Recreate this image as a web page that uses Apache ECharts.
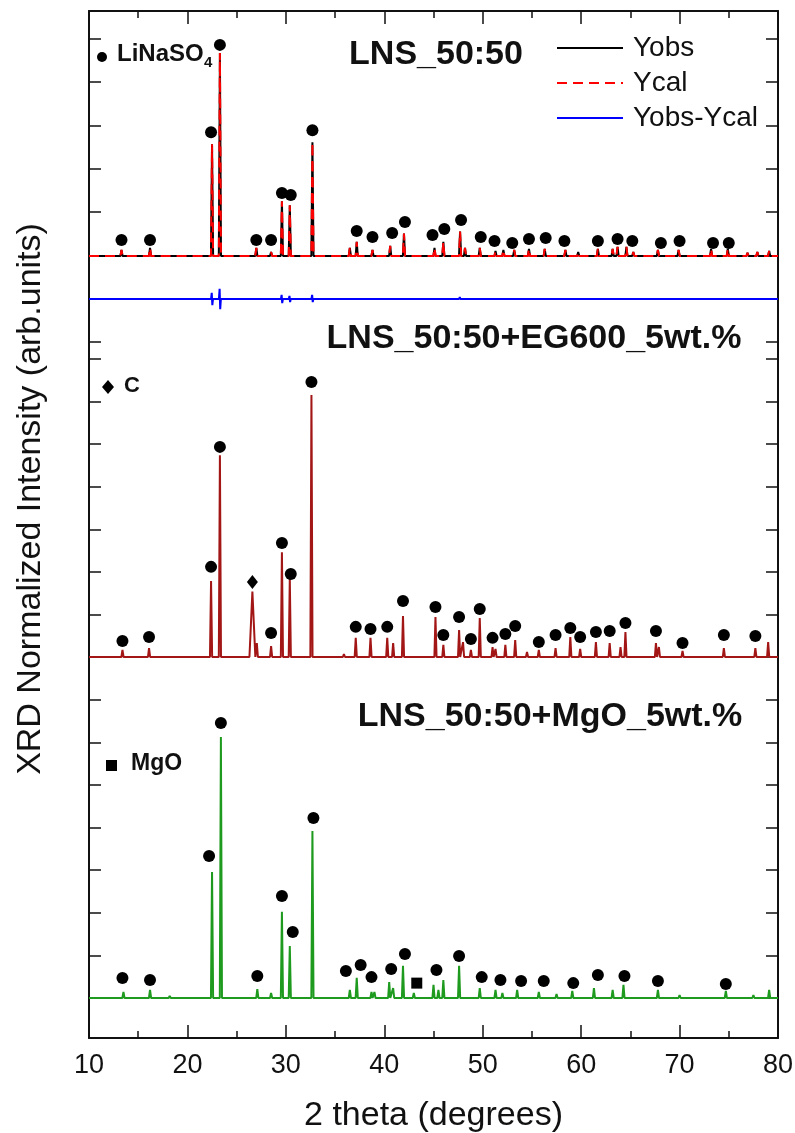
<!DOCTYPE html>
<html>
<head>
<meta charset="utf-8">
<script src="https://cdn.jsdelivr.net/npm/echarts@6/dist/echarts.min.js"></script>
<style>
html, body { margin: 0; padding: 0; background: #fff; }
#xrd { width: 795px; height: 1133px; }
</style>
</head>
<body>
<div id="xrd"></div>
<script>
// ---- LNS_50:50 (Yobs = Ycal), intensity in % of strongest peak
var lnsPos = [13.3, 16.2, 22.5, 23.3, 27.0, 28.5, 29.6, 30.4, 32.7, 36.5, 37.2, 38.8, 40.6, 42.0,
    45.1, 46.0, 47.7, 48.2, 49.7, 51.3, 52.1, 53.2, 54.7, 56.3, 58.4, 59.7, 61.7, 63.2, 63.7,
    64.6, 65.3, 67.8, 69.9, 73.2, 74.9, 76.9, 77.9, 79.1];
var lnsInt = [3, 4, 55, 100, 4, 2, 27, 25, 56, 4, 7, 3, 5, 11,
    4, 7, 12, 4, 4, 2.5, 3, 3, 3.5, 3.5, 3, 2, 3.5, 3.5, 4.5,
    4.5, 2, 3, 3, 3.5, 3.5, 1.5, 2, 2.5];
var lnsDotPos = [13.3, 16.2, 22.4, 23.3, 27.0, 28.5, 29.6, 30.5, 32.7, 37.2, 38.8, 40.8, 42.1, 44.9,
    46.1, 47.8, 49.8, 51.2, 53.0, 54.7, 56.4, 58.3, 61.7, 63.7, 65.2, 68.1, 70.0, 73.4, 75.0];
var lnsDotInt = [7.9, 7.9, 61, 104, 7.9, 7.9, 31, 30, 62, 12.3, 9.4, 11.3, 16.7, 10.3,
    13.3, 17.7, 9.4, 7.4, 6.4, 8.4, 8.9, 7.4, 7.4, 8.4, 7.4, 6.4, 7.4, 6.4, 6.4];
// Yobs-Ycal spikes
var diffPos = [22.5, 23.3, 29.6, 30.4, 32.7, 47.7];
var diffUp = [3, 5, 2, 1.5, 2, 1];
var diffDown = [-3, -5, -2, -1.5, -1.5, 0];

// ---- LNS_50:50+EG600_5wt.%
var egPos = [13.4, 16.1, 22.4, 23.3, 27.05, 28.5, 29.6, 30.4, 32.6, 35.9, 37.1, 38.6, 40.3, 40.9,
    41.9, 45.2, 46.0, 47.6, 48.0, 48.8, 49.7, 51.0, 51.3, 52.3, 53.3, 54.5, 55.7, 57.4, 58.9,
    59.9, 61.5, 62.9, 64.0, 64.5, 67.6, 67.9, 70.3, 74.5, 77.7, 79.0];
var egInt = [2.7, 3.4, 29, 77, 5.3, 4.2, 40, 30, 100, 1.1, 7.3, 7.3, 7.3, 5.3,
    15.6, 15.3, 4.6, 10.3, 5.7, 2.7, 14.9, 3.8, 3.1, 4.6, 6.5, 1.9, 2.7, 3.4, 7.6,
    3.1, 5.7, 5.3, 3.8, 9.5, 5.3, 3.8, 2.3, 3.4, 3.4, 5.7];
var carbonPos = [26.6];
var carbonInt = [25];
var egDotPos = [13.4, 16.1, 22.4, 23.3, 28.5, 29.6, 30.5, 32.6, 37.1, 38.6, 40.3, 41.9, 45.2, 46.0,
    47.6, 48.8, 49.7, 51.0, 52.3, 53.3, 55.7, 57.4, 58.9, 59.9, 61.5, 62.9, 64.5, 67.6, 70.3,
    74.5, 77.7];
var egDotInt = [6.1, 7.6, 34.4, 80.2, 9.2, 43.5, 31.7, 105, 11.5, 10.7, 11.5, 21.4, 19.1, 8.4,
    15.3, 6.9, 18.3, 7.3, 8.8, 11.8, 5.7, 8.4, 11.1, 7.6, 9.5, 9.9, 13, 9.9, 5.3,
    8.4, 8];
var carbonDotInt = [28.6];

// ---- LNS_50:50+MgO_5wt.%
var mgPos = [13.5, 16.2, 18.2, 22.5, 23.4, 27.1, 28.5, 29.6, 30.4, 32.7, 36.5, 37.2, 38.7, 39.0,
    40.5, 40.9, 41.9, 43.0, 45.0, 45.5, 46.0, 47.6, 49.7, 51.3, 52.0, 53.5, 55.7, 57.5, 59.1,
    61.3, 63.2, 64.3, 67.8, 70.0, 74.7, 77.5, 79.1];
var mgInt = [2.3, 3.1, 0.8, 48.3, 100, 3.4, 1.9, 33, 19.9, 64, 3.1, 7.7, 2.3, 2.3,
    6.1, 3.8, 12.3, 1.9, 5, 3.1, 6.9, 12.3, 3.8, 3.1, 1.9, 3.1, 2.3, 1.5, 2.7,
    3.8, 3.1, 5, 3.1, 1.1, 2.7, 1.1, 3.1];
var mgDotPos = [13.4, 16.2, 22.2, 23.4, 27.1, 29.6, 30.7, 32.8, 36.1, 37.6, 38.7, 40.7, 42.1, 45.3,
    47.6, 49.9, 51.8, 53.9, 56.2, 59.2, 61.7, 64.4, 67.8, 74.7];
var mgDotInt = [7.7, 6.9, 54.4, 105.4, 8.4, 39.1, 25.3, 69, 10.3, 12.6, 8, 11.1, 16.9, 10.7,
    16.1, 8, 6.9, 6.5, 6.5, 5.7, 8.8, 8.4, 6.5, 5.4];
var mgoDotPos = [43.3];
var mgoDotInt = [5.7];

var xTicks = [10, 20, 30, 40, 50, 60, 70, 80];

// stacking: baseline and scale of each pattern on the (hidden) y axis
var FONT = '"Liberation Sans", Arial, sans-serif';
var top_ = { base: 782, k: 2.03 };
var diff_ = { base: 739, k: 2.03 };
var mid_ = { base: 381, k: 2.62 };
var bot_ = { base: 40, k: 2.61 };

function profile(pos, inten, panel, broadPos, broadInt) {
    var peaks = pos.map(function (p, i) { return [p, inten[i], 0.11]; });
    if (broadPos) {
        broadPos.forEach(function (p, i) { peaks.push([p, broadInt[i], 0.3]); });
    }
    peaks.sort(function (a, b) { return a[0] - b[0]; });
    var pts = [[10, panel.base]];
    peaks.forEach(function (pk) {
        pts.push([pk[0] - pk[2], panel.base]);
        pts.push([pk[0], panel.base + pk[1] * panel.k]);
        pts.push([pk[0] + pk[2], panel.base]);
    });
    pts.push([80, panel.base]);
    return pts;
}

function diffLine() {
    var pts = [[10, diff_.base]];
    diffPos.forEach(function (p, i) {
        pts.push([p - 0.1, diff_.base]);
        pts.push([p - 0.03, diff_.base + diffUp[i] * diff_.k]);
        pts.push([p + 0.03, diff_.base + diffDown[i] * diff_.k]);
        pts.push([p + 0.1, diff_.base]);
    });
    pts.push([80, diff_.base]);
    return pts;
}

function dots(pos, inten, panel) {
    return pos.map(function (p, i) { return [p, panel.base + inten[i] * panel.k]; });
}

var yTicks = [];
for (var k = 0; k < 16; k++) yTicks.push(40 + 42.6 * k);
for (var j = 0; j < 8; j++) yTicks.push(696 + 43.3 * j);

var myChart = echarts.init(document.getElementById('xrd'));
var axisLine = { onZero: false, lineStyle: { color: '#111', width: 2 } };
var tickStyle = { width: 1.5, color: '#111' };

var option = {
    backgroundColor: '#fff',
    animation: false,
    textStyle: { fontFamily: FONT },
    grid: { left: 89, right: 17, top: 11, bottom: 95, outerBoundsMode: 'none', containLabel: false },
    legend: {
        data: ['Yobs', 'Ycal', 'Yobs-Ycal'],
        orient: 'vertical',
        left: 551,
        top: 29,
        itemWidth: 66,
        itemHeight: 14,
        itemGap: 7,
        itemStyle: { opacity: 0 },
        textStyle: { fontSize: 28, color: '#111', fontFamily: FONT, padding: [0, 0, 0, 5] }
    },
    xAxis: [
        {
            type: 'value', position: 'bottom', min: 10, max: 80, interval: 10,
            axisLine: axisLine,
            axisTick: { inside: true, length: 13, lineStyle: tickStyle },
            minorTick: { show: true, splitNumber: 2, length: 7, lineStyle: tickStyle },
            splitLine: { show: false },
            axisLabel: { fontSize: 27, color: '#111', margin: 14, customValues: xTicks },
            name: '2 theta (degrees)',
            nameLocation: 'middle',
            nameGap: 61,
            nameTextStyle: { fontSize: 34, color: '#111', fontFamily: FONT }
        },
        {
            type: 'value', position: 'top', min: 10, max: 80, interval: 10,
            axisLine: axisLine,
            axisTick: { inside: true, length: 13, lineStyle: tickStyle },
            minorTick: { show: true, splitNumber: 2, length: 7, lineStyle: tickStyle },
            splitLine: { show: false },
            axisLabel: { show: false }
        }
    ],
    yAxis: [
        {
            type: 'value', position: 'left', min: 0, max: 1027,
            axisLine: axisLine,
            axisTick: { inside: true, length: 12, customValues: yTicks, lineStyle: tickStyle },
            splitLine: { show: false },
            axisLabel: { show: false }
        },
        {
            type: 'value', position: 'right', min: 0, max: 1027,
            axisLine: axisLine,
            axisTick: { inside: true, length: 12, customValues: yTicks, lineStyle: tickStyle },
            splitLine: { show: false },
            axisLabel: { show: false }
        }
    ],
    graphic: [
        { type: 'text', x: 31, y: 499, rotation: Math.PI / 2, style: { text: 'XRD Normalized Intensity (arb.units)', font: '34px ' + FONT, fill: '#111', align: 'center', verticalAlign: 'middle' } },
        { type: 'text', x: 436, y: 55, style: { text: 'LNS_50:50', font: 'bold 34px ' + FONT, fill: '#111', align: 'center', verticalAlign: 'middle' } },
        { type: 'text', x: 534, y: 339, style: { text: 'LNS_50:50+EG600_5wt.%', font: 'bold 34px ' + FONT, fill: '#111', align: 'center', verticalAlign: 'middle' } },
        { type: 'text', x: 550, y: 717, style: { text: 'LNS_50:50+MgO_5wt.%', font: 'bold 34px ' + FONT, fill: '#111', align: 'center', verticalAlign: 'middle' } },
        { type: 'circle', shape: { cx: 102, cy: 57, r: 5 }, style: { fill: '#000' } },
        { type: 'text', x: 117, y: 54, style: { text: 'LiNaSO', font: 'bold 24px ' + FONT, fill: '#111', align: 'left', verticalAlign: 'middle' } },
        { type: 'text', x: 204, y: 63, style: { text: '4', font: 'bold 15px ' + FONT, fill: '#111', align: 'left', verticalAlign: 'middle' } },
        { type: 'polygon', shape: { points: [[108, 380], [114, 387], [108, 394], [102, 387]] }, style: { fill: '#000' } },
        { type: 'text', x: 124, y: 386, style: { text: 'C', font: 'bold 22px ' + FONT, fill: '#111', align: 'left', verticalAlign: 'middle' } },
        { type: 'rect', shape: { x: 106, y: 760, width: 11, height: 11 }, style: { fill: '#000' } },
        { type: 'text', x: 131, y: 764, style: { text: 'MgO', font: 'bold 23px ' + FONT, fill: '#111', align: 'left', verticalAlign: 'middle' } }
    ],
    series: [
        {
            name: 'Yobs', type: 'line', symbol: 'none', data: profile(lnsPos, lnsInt, top_),
            lineStyle: { color: '#000', width: 2 }, itemStyle: { color: '#000' }, z: 3
        },
        {
            name: 'Ycal', type: 'line', symbol: 'none', data: profile(lnsPos, lnsInt, top_),
            lineStyle: { color: '#ff0000', width: 2, type: [10, 6] }, itemStyle: { color: '#ff0000' }, z: 4
        },
        {
            name: 'Yobs-Ycal', type: 'line', symbol: 'none', data: diffLine(),
            lineStyle: { color: '#0000ff', width: 2 }, itemStyle: { color: '#0000ff' }, z: 3
        },
        {
            name: 'EG600', type: 'line', symbol: 'none',
            data: profile(egPos, egInt, mid_, carbonPos, carbonInt),
            lineStyle: { color: '#a31616', width: 2 }, z: 3
        },
        {
            name: 'MgO', type: 'line', symbol: 'none', data: profile(mgPos, mgInt, bot_),
            lineStyle: { color: '#1e9a1e', width: 2 }, z: 3
        },
        {
            name: 'LiNaSO4', type: 'scatter', symbol: 'circle', symbolSize: 12, z: 5,
            itemStyle: { color: '#000', opacity: 1 },
            data: dots(lnsDotPos, lnsDotInt, top_).concat(dots(egDotPos, egDotInt, mid_), dots(mgDotPos, mgDotInt, bot_))
        },
        {
            name: 'C', type: 'scatter', symbol: 'diamond', symbolSize: [11, 14], z: 5,
            itemStyle: { color: '#000', opacity: 1 }, data: dots(carbonPos, carbonDotInt, mid_)
        },
        {
            name: 'MgO peak', type: 'scatter', symbol: 'rect', symbolSize: 11, z: 5,
            itemStyle: { color: '#000', opacity: 1 }, data: dots(mgoDotPos, mgoDotInt, bot_)
        }
    ]
};

myChart.setOption(option);
</script>
</body>
</html>
